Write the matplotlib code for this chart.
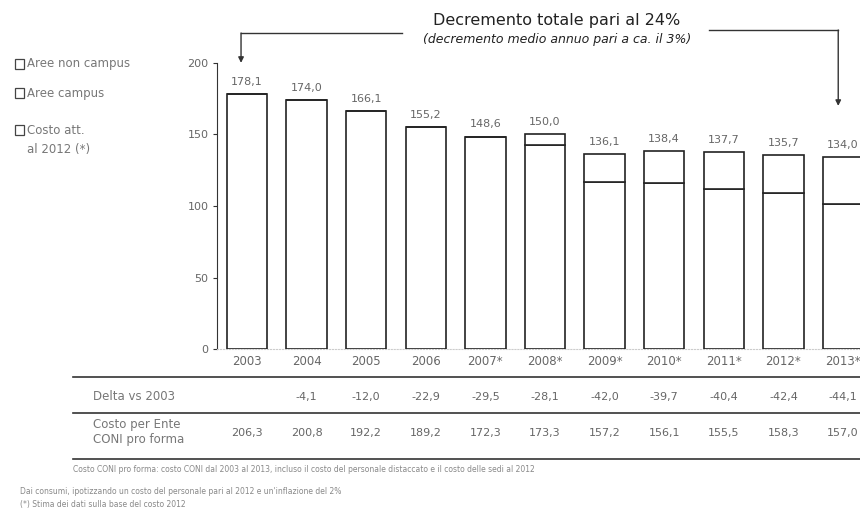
import matplotlib
matplotlib.use("Agg")
import matplotlib.pyplot as plt
from matplotlib.lines import Line2D
from matplotlib.patches import Rectangle
import matplotlib.transforms as mtransforms

years = ["2003", "2004", "2005", "2006", "2007*", "2008*", "2009*", "2010*", "2011*", "2012*", "2013*"]
totals = [178.1, 174.0, 166.1, 155.2, 148.6, 150.0, 136.1, 138.4, 137.7, 135.7, 134.0]
lower = [178.1, 174.0, 166.1, 155.2, 148.6, 142.7, 116.8, 116.0, 112.0, 109.0, 101.4]
delta = ["", "-4,1", "-12,0", "-22,9", "-29,5", "-28,1", "-42,0", "-39,7", "-40,4", "-42,4", "-44,1"]
costo = ["206,3", "200,8", "192,2", "189,2", "172,3", "173,3", "157,2", "156,1", "155,5", "158,3", "157,0"]
yticks = [0, 50, 100, 150, 200]
legend_labels = ["Aree non campus", "Aree campus", "Costo att.\nal 2012 (*)"]

W, H = 860, 513
fig = plt.figure(figsize=(W / 100, H / 100), dpi=100)
fig.patch.set_facecolor("white")

def fx(px):
    return px / W

def fy(py):
    return 1 - py / H

ax = fig.add_axes([fx(217), fy(349), fx(860) - fx(217), fy(63) - fy(349)])
spacing = 59.6
ax.set_xlim(-(247 - 217) / spacing, (860 - 247) / spacing)
ax.set_ylim(0, 200)

xs = list(range(len(years)))
upper = [t - l for t, l in zip(totals, lower)]
ax.bar(xs, lower, width=0.68, color="white", edgecolor="#222222", linewidth=1.2, zorder=3)
ax.bar(xs, upper, bottom=lower, width=0.68, color="white", edgecolor="#222222", linewidth=1.2, zorder=3)

for x, t in zip(xs, totals):
    ax.text(x, t + 5, f"{t:.1f}".replace(".", ","), ha="center", va="bottom", fontsize=8, color="#666666")

ax.set_yticks(yticks)
ax.set_yticklabels([str(v) for v in yticks], fontsize=8, color="#666666")
ax.tick_params(axis="y", length=3, width=0.8, color="#333333", pad=3)
ax.set_xticks(xs)
ax.set_xticklabels(years, fontsize=8.5, color="#666666")
ax.tick_params(axis="x", length=0, pad=4)
for s in ["top", "right"]:
    ax.spines[s].set_visible(False)
ax.spines["left"].set_color("#333333")
ax.spines["bottom"].set_color("#cccccc")
ax.spines["bottom"].set_linestyle(":")

# Title annotations
fig.text(fx(557), fy(20), "Decremento totale pari al 24%", ha="center", va="center", fontsize=11.5, color="#222222")
fig.text(fx(557), fy(40), "(decremento medio annuo pari a ca. il 3%)", ha="center", va="center", fontsize=9, style="italic", color="#222222")

blend = mtransforms.blended_transform_factory(ax.transData, fig.transFigure)
arrow_kw = dict(arrowstyle="-|>", color="#333333", lw=1, mutation_scale=8, shrinkA=0, shrinkB=0)
# left bracket arrow
x0 = xs[0] - 0.1
fig.add_artist(Line2D([x0, 2.6], [fy(33), fy(33)], transform=blend, color="#333333", lw=1))
ax.annotate("", xy=(x0, totals[0] + 22), xytext=(x0, fy(33)), textcoords=blend,
            arrowprops=arrow_kw, annotation_clip=False)
# right bracket arrow
x1 = xs[-1] - 0.08
fig.add_artist(Line2D([7.75, x1], [fy(30), fy(30)], transform=blend, color="#333333", lw=1))
ax.annotate("", xy=(x1, totals[-1] + 36), xytext=(x1, fy(30)), textcoords=blend,
            arrowprops=arrow_kw, annotation_clip=False)

# Legend
leg_y = [64, 93, 130]
for yy, lab in zip(leg_y, legend_labels):
    fig.add_artist(Rectangle((fx(15), fy(yy + 5)), fx(9), fy(yy - 5) - fy(yy + 5),
                             transform=fig.transFigure, facecolor="white", edgecolor="#444444", lw=0.9))
    fig.text(fx(27), fy(yy - 6) if "\n" in lab else fy(yy), lab, ha="left",
             va="top" if "\n" in lab else "center",
             fontsize=8.5, color="#777777", linespacing=1.6)

# Table
for yy in [377, 413, 459]:
    fig.add_artist(Line2D([fx(73), fx(860)], [fy(yy), fy(yy)], transform=fig.transFigure, color="#333333", lw=1.2))
fig.text(fx(93), fy(397), "Delta vs 2003", ha="left", va="center", fontsize=8.5, color="#777777")
fig.text(fx(93), fy(432), "Costo per Ente\nCONI pro forma", ha="left", va="center", fontsize=8.5, color="#777777", linespacing=1.25)
for x, d, c in zip(xs, delta, costo):
    fig.text(x, fy(397), d, transform=blend, ha="center", va="center", fontsize=8, color="#666666")
    fig.text(x, fy(433), c, transform=blend, ha="center", va="center", fontsize=8, color="#666666")

fig.text(fx(73), fy(469),
         "Costo CONI pro forma: costo CONI dal 2003 al 2013, incluso il costo del personale distaccato e il costo delle sedi al 2012",
         ha="left", va="center", fontsize=5.5, color="#888888")
fig.text(fx(20), fy(492), "Dai consumi, ipotizzando un costo del personale pari al 2012 e un'inflazione del 2%",
         ha="left", va="center", fontsize=5.5, color="#888888")
fig.text(fx(20), fy(505), "(*) Stima dei dati sulla base del costo 2012",
         ha="left", va="center", fontsize=5.5, color="#888888")

fig.savefig("out.png", dpi=100, facecolor="white")
